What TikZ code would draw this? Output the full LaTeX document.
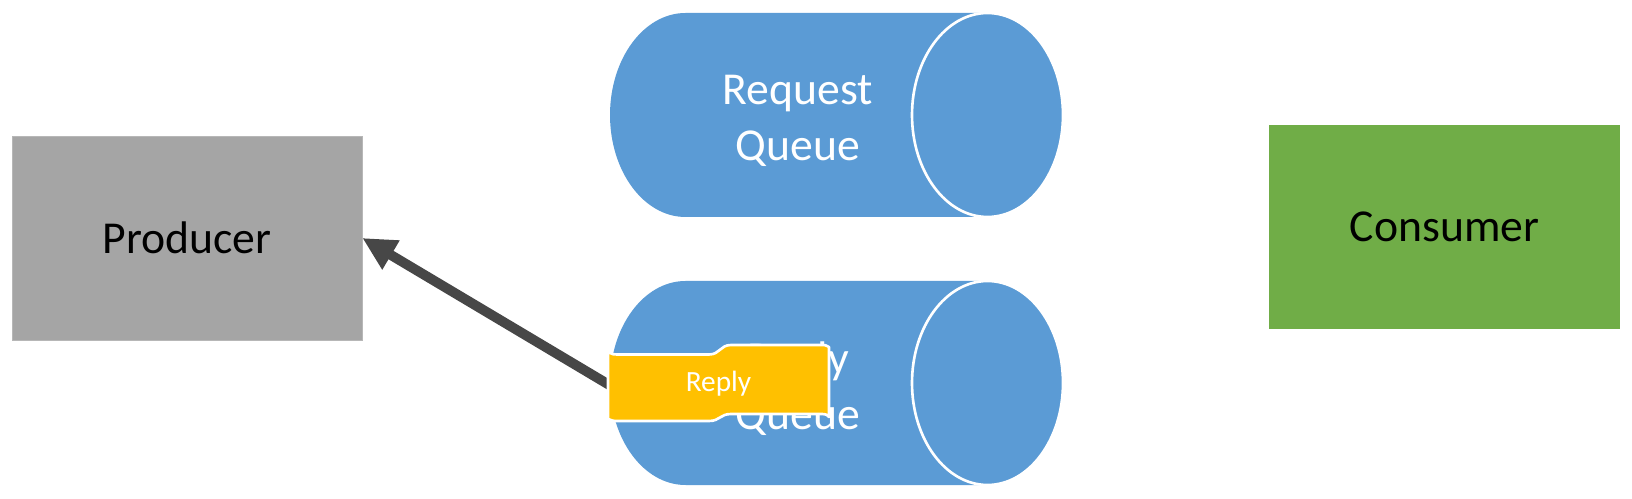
\documentclass[tikz,border=0pt]{standalone}
\usepackage{fontspec}
\setmainfont{Carlito}
\usetikzlibrary{positioning,arrows.meta}
\definecolor{prodgray}{HTML}{A5A5A5}
\definecolor{consgreen}{HTML}{70AD47}
\definecolor{qblue}{HTML}{5B9BD5}
\definecolor{msgyellow}{HTML}{FFC000}
\definecolor{arrowgray}{HTML}{474747}

\newcommand{\queuebody}[2]{% #1,#2 = centre of the right end
  \fill[qblue] (#1,#2-102) -- ++(-302,0) arc[start angle=270,end angle=90,x radius=75.5,y radius=102]
    -- ++(302,0) arc[start angle=90,end angle=-90,x radius=75.5,y radius=102] -- cycle;
  \draw[white,line width=1.5pt] (#1,#2) ellipse[x radius=75.5,y radius=102];
}

\begin{document}
\begin{tikzpicture}[x=0.02cm,y=-0.02cm,
  box/.style={rectangle,minimum width=7cm,minimum height=4.08cm,inner sep=0pt,
    font=\fontsize{26}{32}\selectfont},
  qtext/.style={text=white,align=center,font=\fontsize{26}{32}\selectfont},
  msg/.style={fill=msgyellow,draw=white,line width=1.5pt,line join=round},
  >={Triangle[length=19pt,width=18pt]}]
\useasboundingbox (0,0) rectangle (1632,499);
\node[box,fill=prodgray,draw=prodgray!80] (producer) at (187,238) {Producer};
\node[box,fill=consgreen,minimum width=7.02cm] (consumer) at (1444.5,227) {Consumer};
% the two queues
\queuebody{987.5}{115}
\node[qtext] (reqq) at (798,121) {Request\\Queue};
\queuebody{987.5}{383}
\node[qtext] (repq) at (798,389) {Reply\\Queue};
% reply message, drawn over the queue
\node[minimum width=4.42cm,minimum height=1.34cm] (reply) at (718.5,384) {};
\draw[->,arrowgray,line width=5.6pt,shorten <=-6pt] (reply.west) -- (producer.east);
\draw[msg] (608,352) .. controls (612,354.5) .. (623,354.5) -- (709,354.5)
  .. controls (720,354.5) and (720,345) .. (731,345) -- (818,345) .. controls (826,345) .. (829,347)
  -- (829,417) .. controls (826,414) .. (818,414) -- (731,414)
  .. controls (720,414) and (720,421) .. (709,421) -- (623,421) .. controls (612,421) .. (608,419) -- cycle;
\node[text=white,font=\fontsize{16.7}{20}\selectfont] (replytext) at (reply) {Reply};
\end{tikzpicture}
\end{document}
